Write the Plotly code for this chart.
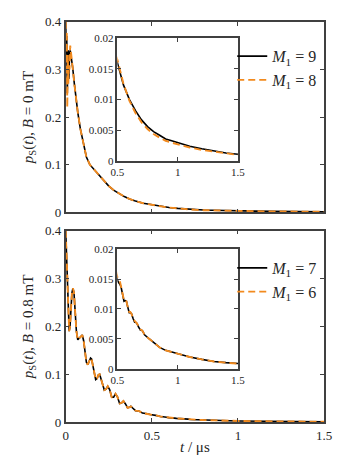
import plotly.graph_objects as go

# ---------------- data ----------------
# B = 0 mT
t_b0 = [0.000, 0.003, 0.006, 0.009, 0.012, 0.015, 0.018, 0.022, 0.026, 0.030,
        0.035, 0.040, 0.050, 0.060, 0.070, 0.085, 0.100, 0.120, 0.140, 0.160,
        0.180, 0.200, 0.220, 0.250, 0.280, 0.310, 0.340, 0.370, 0.400, 0.450,
        0.500, 0.550, 0.600, 0.650, 0.700, 0.750, 0.800, 0.850, 0.900, 0.950,
        1.000, 1.100, 1.200, 1.300, 1.400, 1.500]
p_b0_m9 = [0.400, 0.330, 0.370, 0.250, 0.300, 0.340, 0.280, 0.330, 0.340, 0.330,
           0.320, 0.305, 0.270, 0.235, 0.210, 0.175, 0.150, 0.116, 0.100, 0.092,
           0.083, 0.074, 0.066, 0.055, 0.046, 0.039, 0.033, 0.028, 0.024, 0.019,
           0.0160, 0.0124, 0.0100, 0.0082, 0.0067, 0.0056, 0.0048, 0.0042, 0.0036, 0.0033,
           0.0030, 0.0024, 0.0020, 0.0016, 0.0013, 0.0011]
p_b0_m8 = [0.400, 0.300, 0.380, 0.220, 0.330, 0.270, 0.310, 0.300, 0.350, 0.340,
           0.320, 0.305, 0.270, 0.235, 0.210, 0.175, 0.150, 0.116, 0.100, 0.092,
           0.083, 0.074, 0.066, 0.055, 0.046, 0.039, 0.033, 0.028, 0.024, 0.019,
           0.0165, 0.0126, 0.0098, 0.0078, 0.0063, 0.0052, 0.0044, 0.0038, 0.0033, 0.0030,
           0.0027, 0.0022, 0.0018, 0.0015, 0.0012, 0.0010]

# B = 0.8 mT
t_b08 = [0.000, 0.005, 0.010, 0.015, 0.020, 0.025, 0.030, 0.036, 0.042, 0.048,
         0.055, 0.062, 0.070, 0.078, 0.088, 0.096, 0.104, 0.112, 0.120, 0.128,
         0.136, 0.144, 0.150, 0.158, 0.166, 0.174, 0.182, 0.190, 0.197, 0.205,
         0.214, 0.224, 0.234, 0.244, 0.255, 0.267, 0.278, 0.289, 0.300, 0.313,
         0.324, 0.335, 0.347, 0.359, 0.369, 0.378, 0.390, 0.405, 0.418, 0.430,
         0.445, 0.460, 0.475, 0.490, 0.500, 0.510, 0.522, 0.532, 0.545, 0.555,
         0.565, 0.575, 0.585, 0.598, 0.607, 0.617, 0.630, 0.643, 0.652, 0.662,
         0.675, 0.690, 0.700, 0.710, 0.725, 0.740, 0.752, 0.765, 0.790, 0.820,
         0.850, 0.900, 0.950, 1.000, 1.100, 1.200, 1.300, 1.400, 1.500]
p_b08_m7 = [0.400, 0.340, 0.260, 0.210, 0.190, 0.200, 0.235, 0.270, 0.280, 0.270,
            0.230, 0.190, 0.172, 0.175, 0.180, 0.182, 0.170, 0.145, 0.125, 0.120,
            0.127, 0.134, 0.132, 0.115, 0.097, 0.089, 0.091, 0.099, 0.100, 0.090,
            0.075, 0.067, 0.069, 0.075, 0.068, 0.052, 0.052, 0.059, 0.053, 0.039,
            0.040, 0.044, 0.038, 0.030, 0.031, 0.033, 0.029, 0.024, 0.0235, 0.0225,
            0.0190, 0.0185, 0.0175, 0.0158, 0.0148, 0.0144, 0.0141, 0.0135, 0.0120, 0.0113,
            0.0114, 0.0113, 0.0104, 0.0094, 0.0094, 0.0092, 0.0084, 0.0078, 0.0078, 0.0076,
            0.0070, 0.0065, 0.0065, 0.0063, 0.0057, 0.0054, 0.0053, 0.0050, 0.0046, 0.0041,
            0.0036, 0.0031, 0.0028, 0.0025, 0.0020, 0.0016, 0.00125, 0.00105, 0.0009]
p_b08_m6 = [0.400, 0.340, 0.260, 0.210, 0.190, 0.200, 0.235, 0.270, 0.280, 0.270,
            0.230, 0.190, 0.172, 0.175, 0.180, 0.182, 0.170, 0.145, 0.125, 0.120,
            0.127, 0.134, 0.132, 0.115, 0.097, 0.089, 0.091, 0.099, 0.100, 0.090,
            0.075, 0.067, 0.069, 0.075, 0.068, 0.052, 0.052, 0.059, 0.053, 0.039,
            0.040, 0.044, 0.038, 0.030, 0.031, 0.033, 0.029, 0.024, 0.0235, 0.0225,
            0.0190, 0.0185, 0.0175, 0.0160, 0.0153, 0.0150, 0.0145, 0.0136, 0.0120, 0.0114,
            0.0115, 0.0113, 0.0104, 0.0095, 0.0095, 0.0092, 0.0084, 0.0079, 0.0078, 0.0076,
            0.0070, 0.0066, 0.0065, 0.0063, 0.0057, 0.0054, 0.0053, 0.0050, 0.0046, 0.0041,
            0.0036, 0.0031, 0.0028, 0.0025, 0.0020, 0.0016, 0.00125, 0.00105, 0.0009]

main_yticks = [0, 0.1, 0.2, 0.3, 0.4]
main_yticktext = ["0", "0.1", "0.2", "0.3", "0.4"]
main_xticks = [0, 0.5, 1, 1.5]
main_xticktext = ["0", "0.5", "1", "1.5"]
inset_yticks = [0, 0.005, 0.01, 0.015, 0.02]
inset_yticktext = ["0", "0.005", "0.01", "0.015", "0.02"]
inset_xticks = [0.5, 1, 1.5]
inset_xticktext = ["0.5", "1", "1.5"]

labels_b0 = ["<i>M</i><sub>1</sub> = 9", "<i>M</i><sub>1</sub> = 8"]
labels_b08 = ["<i>M</i><sub>1</sub> = 7", "<i>M</i><sub>1</sub> = 6"]

# ---------------- styling ----------------
BLACK = "#000000"
ORANGE = "#F28A1E"
AX = "#404040"
FONT = "Times New Roman, Liberation Serif, serif"
TXT = "#262626"
W, H = 349, 456


def px_x(a, b):
    return [a / W, b / W]


def px_y(top, bottom):
    return [1 - bottom / H, 1 - top / H]


fig = go.Figure()


def add_pair(t, pa, pb, names, xa, ya, show, legend):
    fig.add_trace(go.Scatter(x=t, y=pa, mode="lines", name=names[0],
                             line=dict(color=BLACK, width=1.6),
                             xaxis=xa, yaxis=ya, showlegend=show, legend=legend))
    fig.add_trace(go.Scatter(x=t, y=pb, mode="lines", name=names[1],
                             line=dict(color=ORANGE, width=1.9, dash="7px,4px"),
                             xaxis=xa, yaxis=ya, showlegend=show, legend=legend))


add_pair(t_b0, p_b0_m9, p_b0_m8, labels_b0, "x", "y", True, "legend")
add_pair(t_b0, p_b0_m9, p_b0_m8, labels_b0, "x2", "y2", False, "legend")
add_pair(t_b08, p_b08_m7, p_b08_m6, labels_b08, "x3", "y3", True, "legend2")
add_pair(t_b08, p_b08_m7, p_b08_m6, labels_b08, "x4", "y4", False, "legend2")

common = dict(showline=True, linecolor=AX, linewidth=1.5, mirror="allticks",
              ticks="inside", ticklen=4, tickwidth=1, tickcolor=AX,
              showgrid=False, zeroline=False)

main_font = dict(family=FONT, size=13, color=TXT)
inset_font = dict(family=FONT, size=11, color=TXT)
title_font = dict(family=FONT, size=15, color=TXT)

fig.update_layout(
    width=W, height=H,
    margin=dict(l=0, r=0, t=0, b=0),
    paper_bgcolor="white", plot_bgcolor="white",
    font=dict(family=FONT, color=TXT),
    xaxis=dict(domain=px_x(53, 323), range=[0, 1.5], anchor="y",
               tickvals=main_xticks, ticktext=main_xticktext, showticklabels=False,
               **common),
    yaxis=dict(domain=px_y(7, 204), range=[0, 0.4], anchor="x",
               tickvals=main_yticks, ticktext=main_yticktext, tickfont=main_font,
               title=dict(text="<i>p</i><sub>S</sub>(<i>t</i>), <i>B</i> = 0 mT",
                          font=title_font, standoff=8),
               **common),
    xaxis2=dict(domain=px_x(107, 233), range=[0.5, 1.5], anchor="y2",
                tickvals=inset_xticks, ticktext=inset_xticktext, tickfont=inset_font,
                **common),
    yaxis2=dict(domain=px_y(24, 151), range=[0, 0.02], anchor="x2",
                tickvals=inset_yticks, ticktext=inset_yticktext, tickfont=inset_font,
                **common),
    xaxis3=dict(domain=px_x(53, 323), range=[0, 1.5], anchor="y3",
                tickvals=main_xticks, ticktext=main_xticktext, tickfont=main_font,
                **common),
    yaxis3=dict(domain=px_y(223, 421), range=[0, 0.4], anchor="x3",
                tickvals=main_yticks, ticktext=main_yticktext, tickfont=main_font,
                title=dict(text="<i>p</i><sub>S</sub>(<i>t</i>), <i>B</i> = 0.8 mT",
                           font=title_font, standoff=8),
                **common),
    xaxis4=dict(domain=px_x(107, 233), range=[0.5, 1.5], anchor="y4",
                tickvals=inset_xticks, ticktext=inset_xticktext, tickfont=inset_font,
                **common),
    yaxis4=dict(domain=px_y(242, 366), range=[0, 0.02], anchor="x4",
                tickvals=inset_yticks, ticktext=inset_yticktext, tickfont=inset_font,
                **common),
    legend=dict(x=227 / W, y=1 - 25 / H, xanchor="left", yanchor="top",
                bgcolor="rgba(0,0,0,0)", borderwidth=0,
                font=dict(family=FONT, size=16, color=TXT), tracegroupgap=0),
    legend2=dict(x=227 / W, y=1 - 244 / H, xanchor="left", yanchor="top",
                 bgcolor="rgba(0,0,0,0)", borderwidth=0,
                 font=dict(family=FONT, size=16, color=TXT), tracegroupgap=0),
    annotations=[dict(text="<i>t</i> / μs", x=188 / W, y=1 - 447 / H,
                      xref="paper", yref="paper", xanchor="center", yanchor="middle",
                      showarrow=False, font=title_font)],
)

fig.write_html("out.html")
